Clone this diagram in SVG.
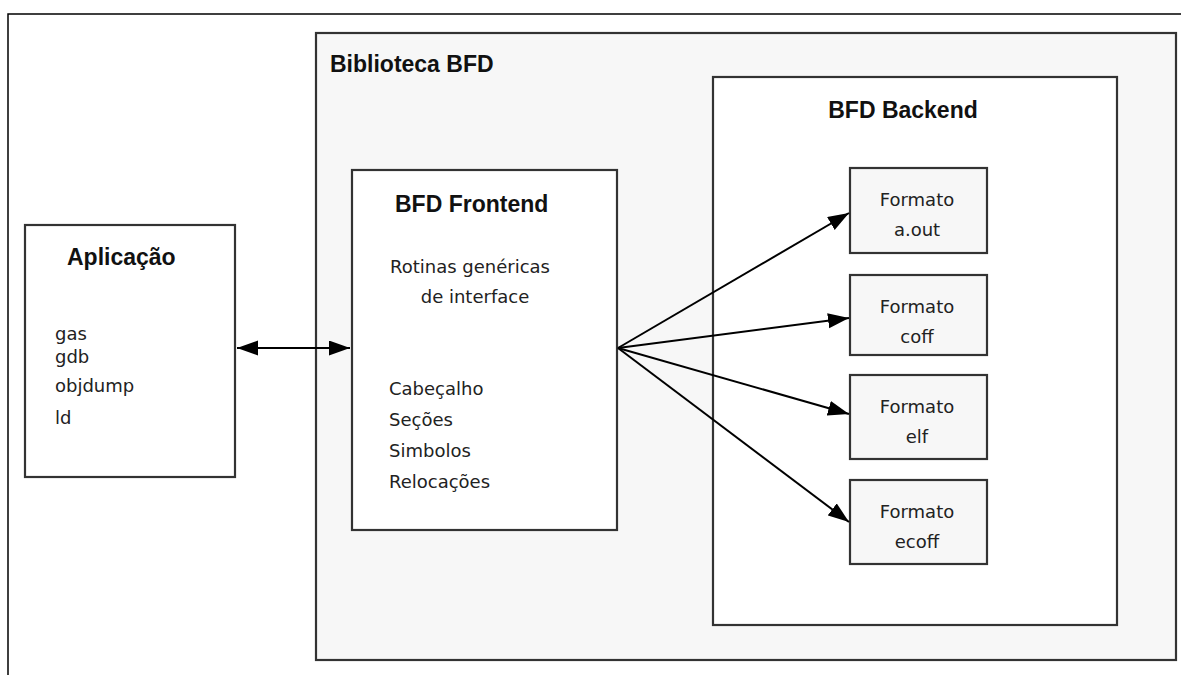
<svg xmlns="http://www.w3.org/2000/svg" width="1181" height="675" viewBox="0 0 1181 675">
<defs>
<style>
.box{stroke:#333;stroke-width:2.2;}
.w{fill:#fff;}
.g{fill:#f7f7f7;}
.t{font-family:"Liberation Sans",Arial,sans-serif;font-weight:bold;font-size:23px;fill:#111;}
.r{font-family:"DejaVu Sans","Liberation Sans",sans-serif;font-size:18px;fill:#222;}
.c{stroke:#000;stroke-width:2;fill:none;}
</style>
<marker id="ah" markerUnits="userSpaceOnUse" markerWidth="22" markerHeight="16" refX="21" refY="7.5" orient="auto-start-reverse" viewBox="0 0 22 16">
<path d="M0,0 L21,7.5 L0,15 z" fill="#000"/>
</marker>
</defs>
<rect width="1181" height="675" fill="#fff"/>
<path d="M8,675 V14 H1181" fill="none" stroke="#000" stroke-width="1.5"/>
<g id="biblioteca">
<rect class="box g" x="316" y="33" width="860" height="627"/>
<text class="t" x="330" y="72">Biblioteca BFD</text>
</g>
<g id="backend">
<rect class="box w" x="713" y="77" width="404" height="548"/>
<text class="t" x="903" y="118" text-anchor="middle">BFD Backend</text>
</g>
<g id="aplicacao">
<rect class="box w" x="25" y="225" width="210" height="252"/>
<text class="t" x="67" y="265">Aplicação</text>
<text class="r" x="55" y="340">gas</text>
<text class="r" x="55" y="363">gdb</text>
<text class="r" x="55" y="392">objdump</text>
<text class="r" x="55" y="424">ld</text>
</g>
<g id="frontend">
<rect class="box w" x="352" y="170" width="265" height="360"/>
<text class="t" x="395" y="212">BFD Frontend</text>
<text class="r" x="470" y="273" text-anchor="middle">Rotinas genéricas</text>
<text class="r" x="475" y="303" text-anchor="middle">de interface</text>
<text class="r" x="389" y="395">Cabeçalho</text>
<text class="r" x="389" y="426">Seções</text>
<text class="r" x="389" y="457">Simbolos</text>
<text class="r" x="389" y="488">Relocações</text>
</g>
<g id="aout">
<rect class="box g" x="850" y="168" width="137" height="85"/>
<text class="r" x="917" y="206" text-anchor="middle">Formato</text>
<text class="r" x="917" y="236" text-anchor="middle">a.out</text>
</g>
<g id="coff">
<rect class="box g" x="850" y="275" width="137" height="80"/>
<text class="r" x="917" y="313" text-anchor="middle">Formato</text>
<text class="r" x="917" y="343" text-anchor="middle">coff</text>
</g>
<g id="elf">
<rect class="box g" x="850" y="375" width="137" height="84"/>
<text class="r" x="917" y="413" text-anchor="middle">Formato</text>
<text class="r" x="917" y="443" text-anchor="middle">elf</text>
</g>
<g id="ecoff">
<rect class="box g" x="850" y="480" width="137" height="84"/>
<text class="r" x="917" y="518" text-anchor="middle">Formato</text>
<text class="r" x="917" y="548" text-anchor="middle">ecoff</text>
</g>
<g id="connectors">
<line class="c" x1="237" y1="348" x2="350" y2="348" marker-start="url(#ah)" marker-end="url(#ah)"/>
<line class="c" x1="618" y1="348" x2="849" y2="213" marker-end="url(#ah)"/>
<line class="c" x1="618" y1="348" x2="849" y2="318" marker-end="url(#ah)"/>
<line class="c" x1="618" y1="348" x2="849" y2="414" marker-end="url(#ah)"/>
<line class="c" x1="618" y1="348" x2="849" y2="522" marker-end="url(#ah)"/>
</g>
</svg>
